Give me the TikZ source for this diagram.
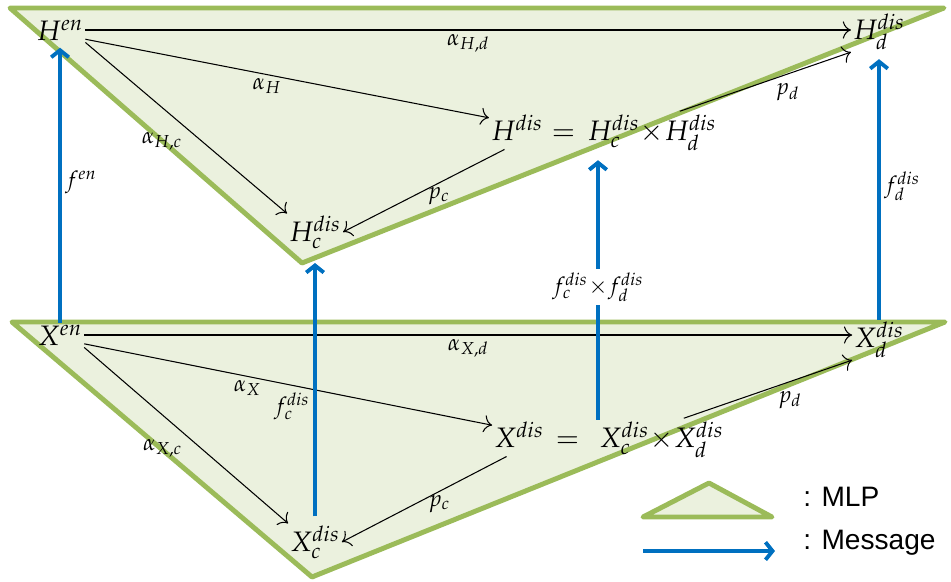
\documentclass[tikz,border=0pt]{standalone}
\usepackage[no-math]{fontspec}
\usepackage{mathpazo}
\usepackage{tikz}
\usetikzlibrary{arrows.meta,positioning,calc}
\newfontfamily\legendfont{Liberation Sans}
\definecolor{mlpgreen}{HTML}{9BBB59}
\definecolor{mlpfill}{HTML}{EBF1DE}
\definecolor{msgblue}{HTML}{0070C0}
\tikzset{
  mlp/.style={draw=mlpgreen, fill=mlpfill, line width=2.8pt, line join=round},
  msg/.style={draw=msgblue, line width=2.2pt, -{Straight Barb[length=4pt,width=10pt]}},
  map/.style={draw=black, line width=0.6pt, -{To[scale=1.6]}},
  var/.style={inner sep=1pt, font=\fontsize{16}{19}\selectfont},
  lab/.style={inner sep=2pt, font=\fontsize{13}{15}\selectfont},
  legtext/.style={anchor=west, inner sep=0pt, font=\legendfont\fontsize{16}{19}\selectfont},
}

\begin{document}
\begin{tikzpicture}[x=0.02cm, y=-0.02cm]
\useasboundingbox (0,0) rectangle (951,582);

\draw[mlp] (10,8) -- (944,8) -- (302,263) -- cycle;
\draw[mlp] (12,322) -- (945,322) -- (312,577) -- cycle;

% hidden layer
\node[var] (Hen) at (60,30) {$H^{en}$};
\node[var] (Hd) at (879,32) {$H^{dis}_{d}$};
\node[var] (Hdis) at (517,128) {$H^{dis}$};
\node[var, anchor=base west] (Hprod) at (Hdis.base east) {$\,=\,H^{dis}_{c}\!\times\!H^{dis}_{d}$};
\node[var] (Hc) at (315,232) {$H^{dis}_{c}$};

\draw[map] (Hen.east) -- (Hen.east -| Hd.west) node[lab, midway, below] {$\alpha_{H,d}$};
\draw[map] (Hen.-20) -- (Hdis.160) node[lab, pos=0.45, below] {$\alpha_{H}$};
\draw[map] (Hen.south east) -- (Hc.north west) node[lab, pos=0.5, below left] {$\alpha_{H,c}$};
\draw[map, shorten <=3pt] (Hprod.25) -- (Hd.south west) node[lab, pos=0.55, below right] {$p_{d}$};
\draw[map, shorten <=8pt] (Hdis.south) -- (Hc.east) node[lab, pos=0.45, below] {$p_{c}$};

% input layer
\node[var] (Xen) at (60,335) {$X^{en}$};
\node[var] (Xd) at (879,340) {$X^{dis}_{d}$};
\node[var] (Xdis) at (519,435) {$X^{dis}$};
\node[var, anchor=base west] (Xprod) at (Xdis.base east) {$\;=\;\,X^{dis}_{c}\!\times\!X^{dis}_{d}$};
\node[var] (Xc) at (315,542) {$X^{dis}_{c}$};

\draw[map] (Xen.east) -- (Xen.east -| Xd.west) node[lab, midway, below] {$\alpha_{X,d}$};
\draw[map] (Xen.-20) -- (Xdis.160) node[lab, pos=0.4, below] {$\alpha_{X}$};
\draw[map] (Xen.south east) -- (Xc.north west) node[lab, pos=0.5, below left] {$\alpha_{X,c}$};
\draw[map, shorten <=3pt] (Xprod.25) -- (Xd.south west) node[lab, pos=0.55, below right] {$p_{d}$};
\draw[map, shorten <=8pt] (Xdis.south) -- (Xc.east) node[lab, pos=0.45, below] {$p_{c}$};

% messages
\coordinate (Htip) at (302,263);
\node[lab] (fcd) at (598,287) {$f^{dis}_{c}\!\times\! f^{dis}_{d}$};
\draw[msg, shorten >=3pt] (Xen.north) -- (Hen.south) node[lab, midway, right] {$f^{en}$};
\draw[msg, shorten <=4pt] (Xc.north) -- (Xc.north |- Htip) node[lab, pos=0.45, left] {$f^{dis}_{c}$};
\draw[draw=msgblue, line width=2.2pt] (fcd |- Xprod.north) -- (fcd.south);
\draw[msg, shorten >=4pt] (fcd.north) -- (fcd |- Hprod.south);
\draw[msg, shorten >=4pt] (Xd.north) -- (Xd.north |- Hd.south) node[lab, midway, right] {$f^{dis}_{d}$};

% legend
\draw[mlp] (643,517) -- (772,517) -- (709,483) -- cycle;
\node[legtext] (mlptext) at (803,497) {: MLP};
\coordinate (msgA) at (643,551);
\coordinate (msgB) at (775,551);
\draw[msg] (msgA) -- (msgB);
\node[legtext] (msgtext) at (803,543) {: Message};
\end{tikzpicture}
\end{document}
